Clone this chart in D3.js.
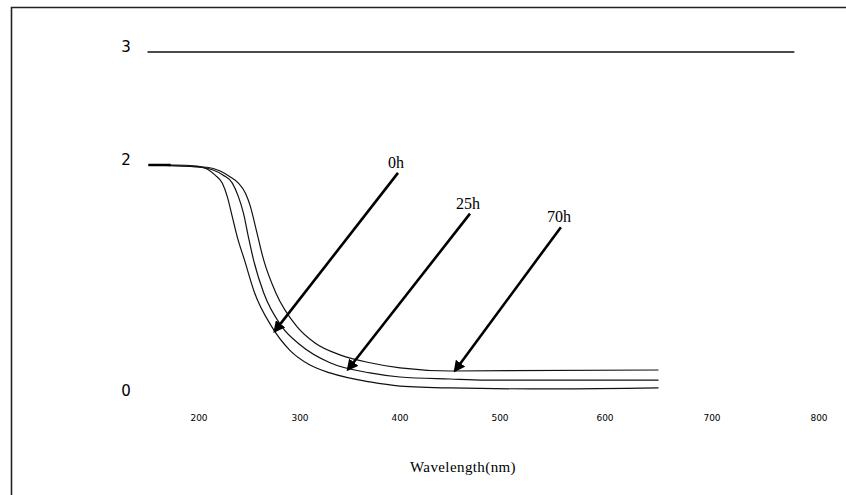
<!DOCTYPE html>
<html>
<head>
<meta charset="utf-8">
<script src="https://cdn.jsdelivr.net/npm/d3@7"></script>
<style>
  body { margin: 0; background: #fff; }
  svg { display: block; }
</style>
</head>
<body>
<svg id="chart" width="846" height="495"></svg>
<script>
// values
const wl0 = [150, 176, 198, 208, 216, 223, 228, 233, 238, 245, 255, 272, 290, 310, 330, 370, 400, 450, 553, 650];
const ab0 = [2.0, 2.0, 1.99, 1.965, 1.91, 1.84, 1.72, 1.54, 1.36, 1.16, 0.87, 0.57, 0.36, 0.23, 0.16, 0.08, 0.044, 0.027, 0.018, 0.027];
const wl25 = [150, 201, 214, 224, 233, 239, 244, 249, 254, 264, 282, 300, 330, 370, 400, 450, 485, 650];
const ab25 = [2.0, 1.98, 1.956, 1.91, 1.84, 1.72, 1.575, 1.36, 1.16, 0.87, 0.57, 0.41, 0.25, 0.16, 0.124, 0.106, 0.097, 0.097];
const wl70 = [150, 208, 221, 231, 239, 246, 251, 256, 264, 276, 297, 315, 340, 370, 400, 450, 650];
const ab70 = [2.0, 1.98, 1.947, 1.894, 1.84, 1.75, 1.63, 1.45, 1.16, 0.87, 0.57, 0.425, 0.32, 0.25, 0.204, 0.177, 0.186];
const xTicks = [200, 300, 400, 500, 600, 700, 800];
const yTicks = [0, 2, 3];
const refLine = { from: 149, to: 777, value: 3 };
// arrow start (wavelength, value) -> tip
const arrows = [
  { label: "0h", x1: 398, y1: 1.93, x2: 275, y2: 0.53 },
  { label: "25h", x1: 470, y1: 1.57, x2: 348, y2: 0.19 },
  { label: "70h", x1: 558, y1: 1.45, x2: 455, y2: 0.18 }
];

const svg = d3.select("#chart");

// the category labels of the original are not evenly spaced
const x = d3.scaleLinear()
  .domain([200, 300, 400, 500, 600, 700, 800])
  .range([199, 300, 400, 500, 605, 712, 819]);
const y = d3.scaleLinear().domain([0, 3]).range([391, 52]);

// frame (left and top edges)
svg.append("path")
  .attr("d", "M11.5,495 V7.5 H846")
  .attr("fill", "none")
  .attr("stroke", "#222")
  .attr("stroke-width", 1.6);

// y labels
svg.selectAll(".ylab")
  .data(yTicks)
  .enter()
  .append("text")
  .attr("class", "ylab")
  .attr("x", 126)
  .attr("y", d => y(d) + (d === 0 ? 5 : 0))
  .attr("text-anchor", "middle")
  .attr("font-family", "DejaVu Sans, Verdana, sans-serif")
  .attr("font-size", 15)
  .text(d => d);

// x tick labels
svg.selectAll(".xlab")
  .data(xTicks)
  .enter()
  .append("text")
  .attr("class", "xlab")
  .attr("x", d => x(d))
  .attr("y", 421)
  .attr("text-anchor", "middle")
  .attr("font-family", "DejaVu Sans, Verdana, sans-serif")
  .attr("font-size", 9)
  .text(d => d);

svg.append("text")
  .attr("x", 463)
  .attr("y", 472)
  .attr("text-anchor", "middle")
  .attr("font-family", "Liberation Serif, Times New Roman, serif")
  .attr("font-size", 15)
  .attr("letter-spacing", 0.4)
  .text("Wavelength(nm)");

// line at 3
svg.append("line")
  .attr("x1", x(refLine.from))
  .attr("x2", x(refLine.to))
  .attr("y1", y(refLine.value))
  .attr("y2", y(refLine.value))
  .attr("stroke", "#111")
  .attr("stroke-width", 1.5);

const line = d3.line()
  .x(d => x(d[0]))
  .y(d => y(d[1]))
  .curve(d3.curveMonotoneX);

const curves = [d3.zip(wl0, ab0), d3.zip(wl25, ab25), d3.zip(wl70, ab70)];
svg.selectAll(".curve")
  .data(curves)
  .enter()
  .append("path")
  .attr("class", "curve")
  .attr("d", line)
  .attr("fill", "none")
  .attr("stroke", "#111")
  .attr("stroke-width", 1.2);

// thicker start segment
svg.append("line")
  .attr("x1", x(150)).attr("x2", x(172))
  .attr("y1", y(2.0)).attr("y2", y(2.0))
  .attr("stroke", "#000")
  .attr("stroke-width", 2.5);

svg.append("defs").append("marker")
  .attr("id", "head")
  .attr("viewBox", "0 0 10 10")
  .attr("refX", 8)
  .attr("refY", 5)
  .attr("markerWidth", 4.5)
  .attr("markerHeight", 4.5)
  .attr("orient", "auto")
  .append("path")
  .attr("d", "M0,0 L10,5 L0,10 z")
  .attr("fill", "#000");

svg.selectAll(".arrow")
  .data(arrows)
  .enter()
  .append("line")
  .attr("class", "arrow")
  .attr("x1", d => x(d.x1))
  .attr("y1", d => y(d.y1))
  .attr("x2", d => x(d.x2))
  .attr("y2", d => y(d.y2))
  .attr("stroke", "#000")
  .attr("stroke-width", 2.6)
  .attr("marker-end", "url(#head)");

svg.selectAll(".alab")
  .data(arrows)
  .enter()
  .append("text")
  .attr("class", "alab")
  .attr("x", d => x(d.x1) - 2)
  .attr("y", d => y(d.y1) - 5)
  .attr("text-anchor", "middle")
  .attr("font-family", "Liberation Serif, Times New Roman, serif")
  .attr("font-size", 16)
  .text(d => d.label);
</script>
</body>
</html>
